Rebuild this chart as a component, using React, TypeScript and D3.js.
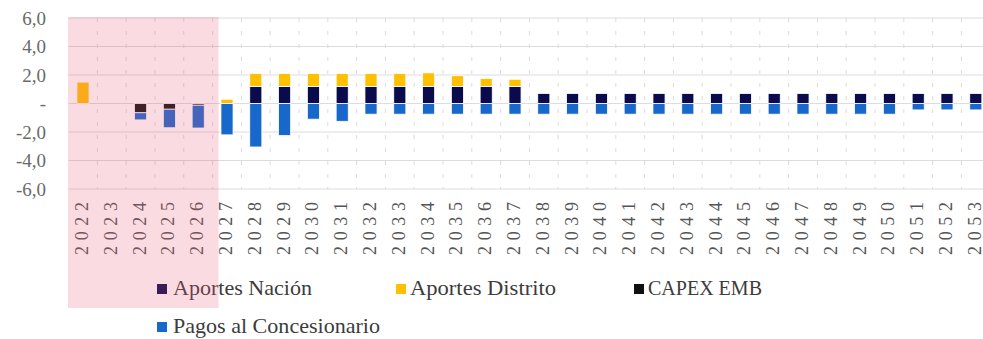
import React from "react";
import * as d3 from "d3";

const years = ["2022","2023","2024","2025","2026","2027","2028","2029","2030","2031","2032","2033","2034","2035","2036","2037","2038","2039","2040","2041","2042","2043","2044","2045","2046","2047","2048","2049","2050","2051","2052","2053"];
const aportesNacion = [0,0,0,0,0,0,1.2,1.2,1.2,1.2,1.2,1.2,1.2,1.2,1.2,1.2,0.7,0.7,0.7,0.7,0.7,0.7,0.7,0.7,0.7,0.7,0.7,0.7,0.7,0.7,0.7,0.7];
const aportesDistrito = [1.5,0,0,0,0,0.3,0.9,0.9,0.9,0.9,0.9,0.9,0.95,0.75,0.55,0.5,0,0,0,0,0,0,0,0,0,0,0,0,0,0,0,0];
const capexEMB = [0,0,-0.65,-0.4,-0.12,0,0,0,0,0,0,0,0,0,0,0,0,0,0,0,0,0,0,0,0,0,0,0,0,0,0,0];
const pagosConcesionario = [0,0,-0.5,-1.3,-1.6,-2.2,-3.05,-2.25,-1.1,-1.25,-0.75,-0.75,-0.75,-0.75,-0.75,-0.75,-0.75,-0.75,-0.75,-0.75,-0.75,-0.75,-0.75,-0.75,-0.75,-0.75,-0.75,-0.75,-0.75,-0.45,-0.45,-0.45];
const yTicks = [6,4,2,0,-2,-4,-6];
const yTickLabels = ["6,0","4,0","2,0","-","-2,0","-4,0","-6,0"];
const seriesNames = ["Aportes Nación","Aportes Distrito","CAPEX EMB","Pagos al Concesionario"];
const seriesKeys = ["nacion","distrito","capex","pagos"];
const shadedYears = ["2022","2023","2024","2025","2026"];

const colors: Record<string,string> = {
  nacion: "#0a0b4c",
  distrito: "#ffc000",
  capex: "#111111",
  pagos: "#1868cc",
};

export default function App() {
  const W = 983, H = 339;
  const x0 = 68.6, step = 28.8;
  const x = d3.scaleBand<string>().domain(years).range([x0, x0 + step * years.length]).padding(0);
  const y = d3.scaleLinear().domain([-6, 6]).range([189, 18]);
  const barW = x.bandwidth() * 0.42;

  const rows = years.map((yr, i) => ({
    year: yr,
    nacion: aportesNacion[i],
    distrito: aportesDistrito[i],
    capex: capexEMB[i],
    pagos: pagosConcesionario[i],
  }));
  const stacked = d3.stack<any>().keys(seriesKeys).offset(d3.stackOffsetDiverging)(rows);

  const gridColor = "#dcdcdc";
  const xEnd = x0 + step * years.length;

  const shadeX0 = x(shadedYears[0])! - 0.6;
  const shadeX1 = x(shadedYears[shadedYears.length - 1])! + x.bandwidth() + 6;

  const legend = [
    { key: "nacion", sx: 157, sy: 284, tx: 173, ty: 295, len: 139 },
    { key: "distrito", sx: 396, sy: 284, tx: 410, ty: 295, len: 146 },
    { key: "capex", sx: 634, sy: 284, tx: 648, ty: 295, len: 114 },
    { key: "pagos", sx: 157, sy: 322, tx: 173, ty: 333, len: 207 },
  ];

  return (
    <div style={{ position: "absolute", left: 0, top: 0, width: W, height: H, overflow: "hidden", background: "#fff" }}>
      <svg width={W} height={H} style={{ display: "block" }}>
        <rect x={0} y={0} width={W} height={H} fill="#ffffff" />
        {yTicks.map((t) => (
          <line key={"h" + t} x1={x0} x2={xEnd} y1={y(t)} y2={y(t)} stroke={gridColor} strokeWidth={1} />
        ))}
        {years.slice(1).map((yr) => (
          <line key={"v" + yr} x1={x(yr)!} x2={x(yr)!} y1={y(6)} y2={y(-6)} stroke={gridColor} strokeWidth={1} strokeDasharray="4,9" />
        ))}
        {stacked.map((s) => (
          <g key={s.key} fill={colors[s.key]}>
            {s.map((d, i) => {
              const v0 = d[0], v1 = d[1];
              if (Math.abs(v1 - v0) < 1e-9) return null;
              const top = y(Math.max(v0, v1));
              const bot = y(Math.min(v0, v1));
              const cx = x(years[i])! + x.bandwidth() / 2;
              return (
                <rect key={i} x={cx - barW / 2} y={top} width={barW} height={bot - top} stroke="#ffffff" strokeWidth={0.8} />
              );
            })}
          </g>
        ))}
        {yTicks.map((t, i) => (
          <text key={"yl" + t} x={46} y={y(t)} dy="0.35em" textAnchor="end" fontFamily="'Liberation Serif', 'DejaVu Serif', serif" fontSize={19} fill="#6a6a6a">
            {yTickLabels[i]}
          </text>
        ))}
        {years.map((yr) => {
          const cx = x(yr)! + x.bandwidth() / 2 - 1;
          const ty = 202;
          return (
            <text key={"xl" + yr} x={cx} y={ty} transform={`rotate(-90, ${cx}, ${ty})`} textAnchor="end" dominantBaseline="central" fontFamily="'Liberation Serif', 'DejaVu Serif', serif" fontSize={18} fill="#555555" textLength={53} lengthAdjust="spacing">
              {yr}
            </text>
          );
        })}
        {legend.map((l) => (
          <g key={"lg" + l.key}>
            <rect x={l.sx} y={l.sy} width={10} height={10} fill={colors[l.key]} />
            <text x={l.tx} y={l.ty} fontFamily="'Liberation Serif', 'DejaVu Serif', serif" fontSize={22} fill="#3c3c3c" textLength={l.len} lengthAdjust="spacingAndGlyphs">
              {seriesNames[seriesKeys.indexOf(l.key)]}
            </text>
          </g>
        ))}
        <rect x={shadeX0} y={17} width={shadeX1 - shadeX0} height={308 - 17} fill="rgb(237,91,123)" fillOpacity={0.22} />
      </svg>
    </div>
  );
}
